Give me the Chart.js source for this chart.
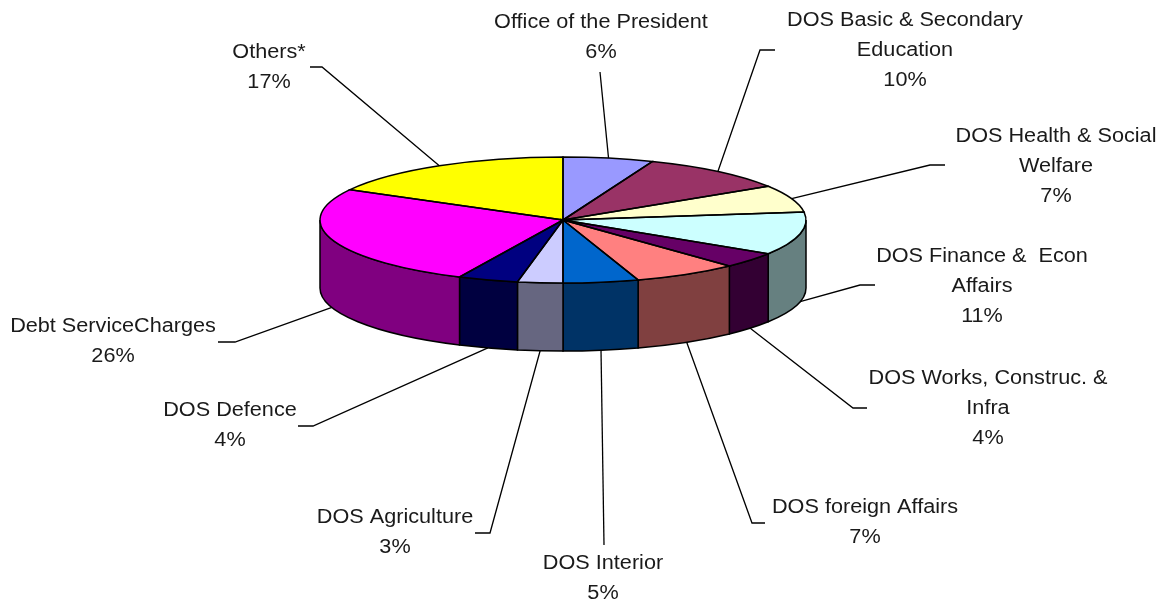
<!DOCTYPE html>
<html>
<head>
<meta charset="utf-8">
<title>Budget pie</title>
<script src="https://cdn.jsdelivr.net/npm/chart.js@4/dist/chart.umd.min.js"></script>
<style>
    html, body { margin: 0; padding: 0; background: #fff; }
    canvas { display: block; }
</style>
</head>
<body>
<canvas id="pie" width="1159" height="600"></canvas>
<script>
const categories = [
    ['Office of the President'],
    ['DOS Basic & Secondary', 'Education'],
    ['DOS Health & Social', 'Welfare'],
    ['DOS Finance &  Econ', 'Affairs'],
    ['DOS Works, Construc. &', 'Infra'],
    ['DOS foreign Affairs'],
    ['DOS Interior'],
    ['DOS Agriculture'],
    ['DOS Defence'],
    ['Debt ServiceCharges'],
    ['Others*']
];
const shares = [6, 10, 7, 11, 4, 7, 5, 3, 4, 26, 17];
const topColors = ['#9999FF', '#993366', '#FFFFCC', '#CCFFFF', '#660066', '#FF8080', '#0066CC', '#CCCCFF', '#000080', '#FF00FF', '#FFFF00'];

// label placement: centre x and y of the first text line
const labelSpots = [
    [601, 23], [905, 21], [1056, 137], [982, 257], [988, 379], [865, 508],
    [603, 564], [395, 518], [230, 411], [113, 327], [269, 53]
];
// leader lines, from the label towards the slice (the last point comes from the arc)
const leaderStubs = [
    [[600, 72]],
    [[775, 50], [760, 50]],
    [[945, 165], [930, 165]],
    [[875, 285], [860, 285]],
    [[867, 408], [853, 408]],
    [[765, 523], [752, 523]],
    [[604, 545]],
    [[475, 533], [490, 533]],
    [[298, 426], [313, 426]],
    [[218, 342], [235, 342]],
    [[310, 67], [322, 67]]
];

// tilt of the disc
const tiltCenterY = 220;
const tiltRadiusY = 63;
const wallDepth = 68;
const lineColor = '#000';
const textFont = '19.5px "Liberation Sans", Arial, sans-serif';
const textStretch = 1.11;

function halfTone(hex) {
    const n = parseInt(hex.slice(1), 16);
    const half = (v) => Math.round(v / 2);
    return `rgb(${half(n >> 16)}, ${half((n >> 8) & 255)}, ${half(n & 255)})`;
}

const tiltedPie = {
    id: 'tiltedPie',

    // front wall goes under the top face
    beforeDatasetsDraw(chart) {
        const ctx = chart.ctx;
        chart.getDatasetMeta(0).data.forEach((arc, i) => {
            const from = Math.max(arc.startAngle, 0);
            const to = Math.min(arc.endAngle, Math.PI);
            if (to <= from) return;
            const rx = arc.outerRadius;
            ctx.beginPath();
            ctx.ellipse(arc.x, tiltCenterY, rx, tiltRadiusY, 0, from, to);
            ctx.ellipse(arc.x, tiltCenterY + wallDepth, rx, tiltRadiusY, 0, to, from, true);
            ctx.closePath();
            ctx.fillStyle = halfTone(topColors[i]);
            ctx.fill();
            ctx.lineWidth = 1.5;
            ctx.strokeStyle = lineColor;
            ctx.stroke();
        });
    },

    // squash the circle the library draws into the ellipse
    beforeDatasetDraw(chart) {
        const ctx = chart.ctx;
        const arc = chart.getDatasetMeta(0).data[0];
        ctx.save();
        ctx.translate(0, tiltCenterY);
        ctx.scale(1, tiltRadiusY / arc.outerRadius);
        ctx.translate(0, -arc.y);
    },

    afterDatasetDraw(chart) {
        const ctx = chart.ctx;
        ctx.restore();
        // outlines are stroked here so the squash does not thin them
        chart.getDatasetMeta(0).data.forEach((arc) => {
            ctx.beginPath();
            ctx.moveTo(arc.x, tiltCenterY);
            ctx.ellipse(arc.x, tiltCenterY, arc.outerRadius, tiltRadiusY, 0, arc.startAngle, arc.endAngle);
            ctx.closePath();
            ctx.lineWidth = 1.5;
            ctx.strokeStyle = lineColor;
            ctx.stroke();
        });
    },

    afterDraw(chart) {
        const ctx = chart.ctx;
        chart.getDatasetMeta(0).data.forEach((arc, i) => {
            // leader ends on the rim at the middle of the slice
            const mid = (arc.startAngle + arc.endAngle) / 2;
            const onWall = Math.sin(mid) > 0;
            const tipX = arc.x + arc.outerRadius * Math.cos(mid);
            const tipY = tiltCenterY + tiltRadiusY * Math.sin(mid) + (onWall ? wallDepth : 0);

            ctx.beginPath();
            leaderStubs[i].forEach(([x, y], k) => (k ? ctx.lineTo(x, y) : ctx.moveTo(x, y)));
            ctx.lineTo(tipX, tipY);
            ctx.lineWidth = 1.3;
            ctx.strokeStyle = lineColor;
            ctx.stroke();

            const [lx, ly] = labelSpots[i];
            const lines = [...categories[i], shares[i] + '%'];
            ctx.save();
            ctx.translate(lx, ly);
            ctx.scale(textStretch, 1);
            ctx.font = textFont;
            ctx.fillStyle = '#1a1a1a';
            ctx.textAlign = 'center';
            ctx.textBaseline = 'middle';
            lines.forEach((line, k) => ctx.fillText(line, 0, k * 30));
            ctx.restore();
        });
    }
};

new Chart(document.getElementById('pie'), {
    type: 'pie',
    data: {
        labels: categories.map((c) => c.join(' ')),
        datasets: [{
            data: shares,
            backgroundColor: topColors,
            borderWidth: 0
        }]
    },
    options: {
        responsive: false,
        animation: false,
        radius: 243,
        layout: { padding: { right: 33 } },
        plugins: {
            legend: { display: false },
            tooltip: { enabled: false }
        }
    },
    plugins: [tiltedPie]
});
</script>
</body>
</html>
